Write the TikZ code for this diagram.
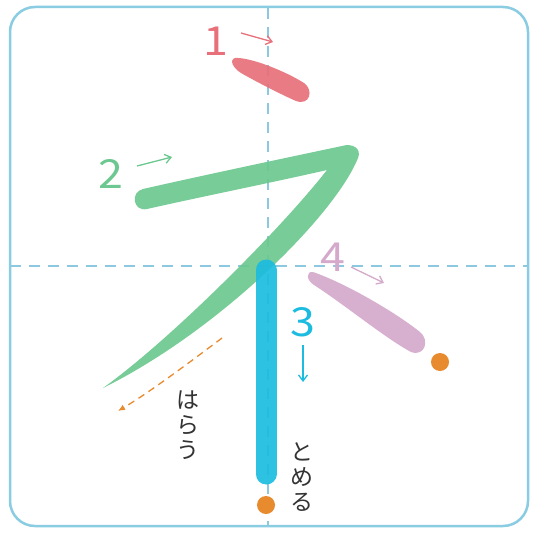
\documentclass[tikz,border=0pt]{standalone}
\usepackage{fontspec}
\newfontfamily\jp{Noto Sans CJK JP}
\usetikzlibrary{arrows.meta}
\definecolor{frameblue}{HTML}{8ACCE2}
\definecolor{guideblue}{HTML}{8CC8DF}
\definecolor{sred}{HTML}{E8707A}
\definecolor{sgreen}{HTML}{6CC890}
\definecolor{sblue}{HTML}{1CBCE0}
\definecolor{spurple}{HTML}{D4A9CB}
\definecolor{sorange}{HTML}{E88A2E}
\definecolor{txt}{HTML}{333333}
\tikzset{
  num/.style={font=\jp\fontsize{40}{40}\selectfont, inner sep=0pt, xscale=1.12},
  dirarrow/.style={line width=1.3, -{Straight Barb[length=6pt,width=9pt]}},
  vtext/.style={font=\jp\fontsize{23}{25}\selectfont, text=txt, align=center, inner sep=0pt},
  guide/.style={guideblue, line width=1.4, dash pattern=on 11pt off 8pt},
  brush/.style={opacity=0.92},
  dot/.style={circle, fill=sorange, minimum size=18pt, inner sep=0pt}
}
\begin{document}
\begin{tikzpicture}[x=1pt,y=-1pt]
\useasboundingbox (0,0) rectangle (535,535);
\fill[white] (0,0) rectangle (535,535);
% guides
\coordinate (vt) at (268,8);
\coordinate (vb) at (268,526);
\coordinate (hl) at (10,266);
\coordinate (hr) at (528,266);
\draw[guide] (vt) -- (vb);
\draw[guide] (hl) -- (hr);
% frame
\draw[frameblue, line width=2.5, rounded corners=25] (10,7) rectangle (528,526);
% stroke 1 (red)
\fill[sred, brush] (235,58) .. controls (250,57) and (285,71) .. (304,83)
  .. controls (314,90) and (310,106) .. (296,101)
  .. controls (280,94) and (255,81) .. (241,73)
  .. controls (233,68) and (229,60) .. (235,58) -- cycle;
% stroke 2 (green)
\fill[sgreen, brush] (143,189) .. controls (200,176) and (290,157) .. (342,146)
  .. controls (352,143) and (362,148) .. (358,158)
  .. controls (335,215) and (220,330) .. (103,388)
  .. controls (170,340) and (280,230) .. (327,170)
  .. controls (270,183) and (200,197) .. (147,209)
  .. controls (133,212) and (130,192) .. (143,189) -- cycle;
% stroke 3 (blue)
\coordinate (b1) at (266,270);
\coordinate (b2) at (266,474);
\draw[sblue, brush, line width=21, line cap=round] (b1) -- (b2);
% stroke 4 (purple)
\fill[spurple, brush] (313,272) .. controls (345,283) and (395,312) .. (420,332)
  .. controls (430,340) and (425,357) .. (411,352)
  .. controls (385,338) and (345,305) .. (314,285)
  .. controls (306,280) and (306,271) .. (313,272) -- cycle;
% end dots
\node[dot] (d1) at (440,362) {};
\node[dot] (d2) at (266,505) {};
% numbers and direction arrows
\node[num, text=sred] (n1) at (216,41) {1};
\coordinate (a1s) at (241,33); \coordinate (a1e) at (273,42);
\draw[sred, dirarrow] (a1s) -- (a1e);
\node[num, text=sgreen] (n2) at (111,174) {2};
\coordinate (a2s) at (137,166); \coordinate (a2e) at (172,157);
\draw[sgreen, dirarrow] (a2s) -- (a2e);
\node[num, text=sblue] (n3) at (303,322) {3};
\coordinate (a3s) at (303,345); \coordinate (a3e) at (303,382);
\draw[sblue, dirarrow] (a3s) -- (a3e);
\node[num, text=spurple] (n4) at (333,257) {4};
\coordinate (a4s) at (351,267); \coordinate (a4e) at (384,283);
\draw[spurple, dirarrow] (a4s) -- (a4e);
% harau arrow
\coordinate (h1) at (222,338);
\coordinate (h2) at (118,411);
\draw[sorange, line width=1.3, dash pattern=on 7pt off 5pt, -{Latex[length=7pt,width=6pt]}]
  (h1) .. controls (190,362) and (150,392) .. (h2);
% vertical labels
\node[vtext] (harau) at (188,425) {は\\ら\\う};
\node[vtext] (tome) at (302,477) {と\\め\\る};
\end{tikzpicture}
\end{document}
